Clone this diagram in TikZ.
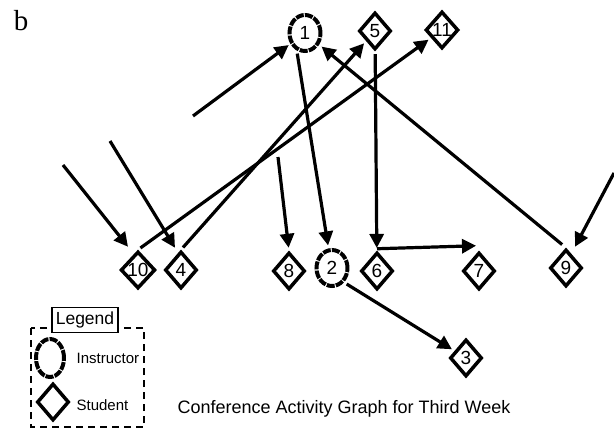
\documentclass[tikz,border=0pt]{standalone}
\usepackage{fontspec}
\setmainfont{Liberation Sans}
\newfontfamily\panelfont{Liberation Serif}
\usetikzlibrary{arrows.meta,shapes.geometric}

\begin{document}
\begin{tikzpicture}[x=1pt,y=-1pt,>={Triangle[length=14pt,width=14pt]},
  font=\fontsize{19}{19}\selectfont, line width=3.2pt,
  stu/.style={draw,diamond,inner sep=0pt,minimum width=32pt,minimum height=37pt,line width=3.5pt},
  ins/.style={draw,ellipse,inner sep=0pt,minimum width=31pt,minimum height=36pt,
    line width=4pt,dash pattern=on 8pt off 1.2pt},
  con/.style={->,shorten >=3pt,shorten <=3pt}]
  \useasboundingbox (0,0) rectangle (614,436);
  \node[font=\panelfont\fontsize{29}{29}\selectfont] (tag) at (21,21) {b};
  % instructors and students
  \node[ins] (i1) at (305,33) {1};
  \node[ins] (i2) at (332,268) {2};
  \foreach \n/\x/\y in {5/375/31, 11/442/30, 10/138/270, 4/181/270, 8/289/271,
      6/377/271, 7/479/271, 9/566/268, 3/466/358}
    \node[stu] (s\n) at (\x,\y) {\n};
  % loose ends of arrows coming in from outside
  \coordinate (f1) at (193,116);
  \coordinate (f10) at (63,165);
  \coordinate (f4) at (110,141);
  \coordinate (f9) at (614,173);
  \coordinate (b8) at (278,157);
  \draw[->,shorten >=2pt] (f1) -- (i1);
  \draw[->] (f10) -- ([xshift=-10pt,yshift=3pt]s10.north);
  \draw[->] (f4) -- ([xshift=-6pt,yshift=2pt]s4.north);
  \draw[->] (f9) -- ([xshift=9pt,yshift=1pt]s9.north);
  % conference links
  \draw[con] (s10.north) -- (s11);
  \draw[con] (s4.north) -- (s5);
  \draw[con,shorten <=5pt] (s9.north) -- (i1);
  \draw[con] (i1.245) -- (i2.100);
  \draw[con] (s5) -- (s6);
  \draw[->] ([yshift=2pt]s6.north) -- ([xshift=-3pt,yshift=5pt]s7.north);
  \draw[->,shorten >=3pt] (b8) -- (s8.north);
  \draw[con] (i2.-50) -- (s3);
  % legend
  \draw[line width=1.2pt,dash pattern=on 7pt off 5pt] (31,328) rectangle (144,427);
  \node[draw,fill=white,line width=1.2pt,inner sep=1pt,font=\fontsize{17.5}{17.5}\selectfont,
    minimum width=66pt,minimum height=25pt] (leg) at (85,320) {Legend};
  \node[ins,minimum width=28pt,minimum height=38pt] (li) at (50,358) {};
  \node[stu] (ls) at (53,402) {};
  \node[anchor=west,inner sep=0pt,font=\fontsize{15}{15}\selectfont] (lit) at (75,358) {Instructor};
  \node[anchor=west,inner sep=0pt,font=\fontsize{15}{15}\selectfont] (lst) at (75,405) {Student};
  \node[font=\fontsize{18}{18}\selectfont] (title) at (344,409) {Conference Activity Graph for Third Week};
\end{tikzpicture}
\end{document}
